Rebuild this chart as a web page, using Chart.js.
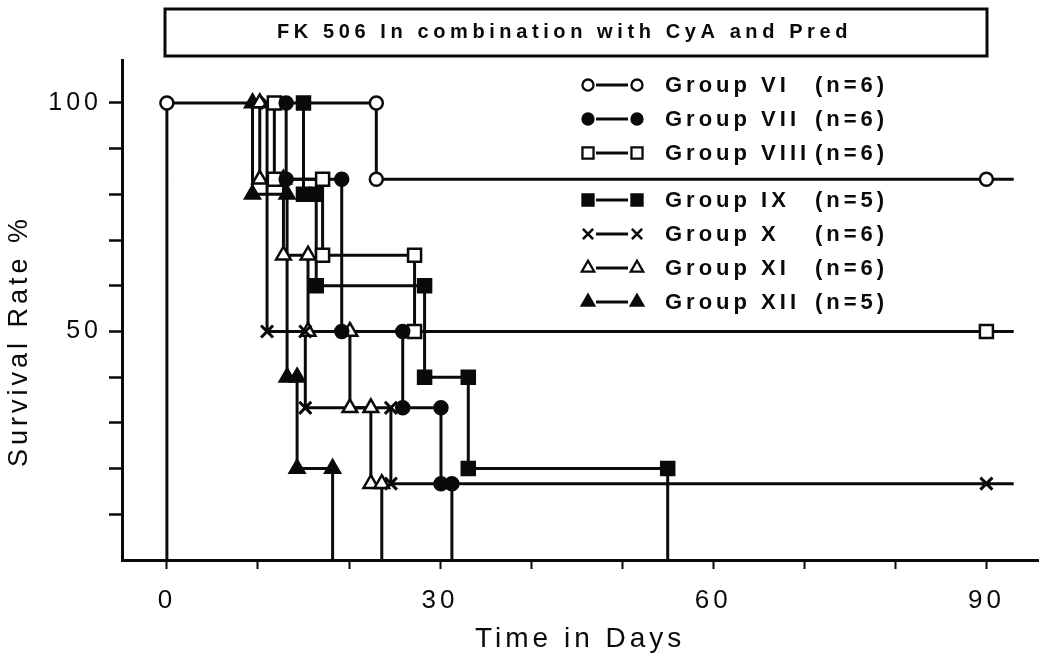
<!DOCTYPE html>
<html>
<head>
<meta charset="utf-8">
<script src="https://cdn.jsdelivr.net/npm/chart.js@4.4.1/dist/chart.umd.min.js"></script>
<style>
  html, body { margin: 0; padding: 0; background: #fff; }
  #wrap { width: 1050px; height: 665px; }
</style>
</head>
<body>
<div id="wrap"><canvas id="c" width="1050" height="665"></canvas></div>
<script>
// ---------------- DATA ----------------
const chartTitle = 'FK 506 In combination with CyA and Pred';
const xAxisTitle = 'Time in Days';
const yAxisTitle = 'Survival Rate %';
const xTickValues = [0, 10, 20, 30, 40, 50, 60, 70, 80, 90];
const xLabelValues = [0, 30, 60, 90];
const yTickValues = [10, 20, 30, 40, 50, 60, 70, 80, 90, 100];
const yLabelValues = [50, 100];

const groupNames = ['Group VI', 'Group VII', 'Group VIII', 'Group IX', 'Group X', 'Group XI', 'Group XII'];
const groupSizes = [6, 6, 6, 5, 6, 6, 5];

// step-curve vertices (day, survival %)
const daysVI   = [0, 0, 23, 23, 90, 93];
const survVI   = [0, 100, 100, 83.3, 83.3, 83.3];

const daysVII  = [13.1, 13.1, 19.2, 19.2, 25.9, 25.9, 30.1, 30.1, 31.3, 31.3];
const survVII  = [100, 83.3, 83.3, 50, 50, 33.3, 33.3, 16.7, 16.7, 0];

const daysVIII = [11.8, 11.8, 17.1, 17.1, 27.2, 27.2, 90, 93];
const survVIII = [100, 83.3, 83.3, 66.7, 66.7, 50, 50, 50];

const daysIX   = [15.0, 15.0, 16.4, 16.4, 28.3, 28.3, 33.1, 33.1, 55.0, 55.0];
const survIX   = [100, 80, 80, 60, 60, 40, 40, 20, 20, 0];

const daysX    = [11.0, 11.0, 15.2, 15.2, 24.6, 24.6, 90, 93];
const survX    = [100, 50, 50, 33.3, 33.3, 16.7, 16.7, 16.7];

const daysXI   = [10.2, 10.2, 12.8, 12.8, 15.5, 15.5, 20.1, 20.1, 22.4, 22.4, 23.6, 23.6];
const survXI   = [100, 83.3, 83.3, 66.7, 66.7, 50, 50, 33.3, 33.3, 16.7, 16.7, 0];

const daysXII  = [9.4, 9.4, 13.2, 13.2, 14.3, 14.3, 18.2, 18.2];
const survXII  = [100, 80, 80, 40, 40, 20, 20, 0];

// ---------------- STYLE TABLE ----------------
const groupDays = [daysVI, daysVII, daysVIII, daysIX, daysX, daysXI, daysXII];
const groupSurv = [survVI, survVII, survVIII, survIX, survX, survXI, survXII];
const markerStyles = [
  { style: 'circle',   filled: false, r: 6.5 },
  { style: 'circle',   filled: true,  r: 6.5 },
  { style: 'rect',     filled: false, r: 9.2 },
  { style: 'rect',     filled: true,  r: 9.2 },
  { style: 'crossRot', filled: false, r: 8.5 },
  { style: 'triangle', filled: false, r: 8.5 },
  { style: 'triangle', filled: true,  r: 8.5 }
];
const INK = '#0a0a0a';
const SANS = '"Liberation Sans", Arial, Helvetica, sans-serif';

const datasets = [];
groupNames.forEach((name, i) => {
  const days = groupDays[i], surv = groupSurv[i];
  const path = days.map((d, k) => ({ x: d, y: surv[k] }));
  const marks = path.filter(p => p.y > 0 && p.x <= 90.5);
  const ms = markerStyles[i];
  datasets.push({
    label: name + ' line',
    data: path,
    showLine: true,
    borderColor: INK,
    borderWidth: 3,
    pointRadius: 0,
    tension: 0,
    fill: false,
    order: 2
  });
  datasets.push({
    label: name,
    data: marks,
    showLine: false,
    pointStyle: ms.style,
    pointRadius: ms.r,
    pointHoverRadius: ms.r,
    pointBackgroundColor: ms.filled ? INK : '#ffffff',
    pointBorderColor: INK,
    pointBorderWidth: ms.style === 'crossRot' ? 3 : 2.5,
    order: 1
  });
});

// ---------------- MARKER DRAWER (legend) ----------------
function drawMarker(ctx, ms, x, y, r) {
  ctx.save();
  ctx.fillStyle = ms.filled ? INK : '#fff';
  ctx.strokeStyle = INK;
  ctx.lineWidth = ms.style === 'crossRot' ? 2.6 : 2.3;
  ctx.beginPath();
  if (ms.style === 'circle') {
    ctx.arc(x, y, r, 0, Math.PI * 2);
    ctx.fill(); ctx.stroke();
  } else if (ms.style === 'rect') {
    const s = r * Math.SQRT1_2;
    ctx.rect(x - s, y - s, 2 * s, 2 * s);
    ctx.fill(); ctx.stroke();
  } else if (ms.style === 'triangle') {
    let a = 0;
    ctx.moveTo(x + Math.sin(a) * r, y - Math.cos(a) * r);
    a += Math.PI * 2 / 3;
    ctx.lineTo(x + Math.sin(a) * r, y - Math.cos(a) * r);
    a += Math.PI * 2 / 3;
    ctx.lineTo(x + Math.sin(a) * r, y - Math.cos(a) * r);
    ctx.closePath();
    ctx.fill(); ctx.stroke();
  } else if (ms.style === 'crossRot') {
    const s = r * Math.SQRT1_2;
    ctx.moveTo(x - s, y - s); ctx.lineTo(x + s, y + s);
    ctx.moveTo(x - s, y + s); ctx.lineTo(x + s, y - s);
    ctx.stroke();
  }
  ctx.restore();
}

const decor = {
  id: 'decor',
  beforeDraw(chart) {
    chart.ctx.letterSpacing = '4px';
  },
  afterDraw(chart) {
    const ctx = chart.ctx;
    ctx.save();
    // title box
    ctx.letterSpacing = '0px';
    ctx.lineWidth = 3;
    ctx.strokeStyle = INK;
    ctx.strokeRect(165, 9, 822, 47);
    ctx.letterSpacing = '4.6px';
    ctx.font = 'bold 20px ' + SANS;
    ctx.fillStyle = INK;
    ctx.textAlign = 'left';
    ctx.textBaseline = 'middle';
    ctx.fillText(chartTitle, 277, 32);

    // y-axis title
    ctx.save();
    ctx.translate(20, 343);
    ctx.rotate(-Math.PI / 2);
    ctx.letterSpacing = '4px';
    ctx.font = '27px ' + SANS;
    ctx.textAlign = 'center';
    ctx.textBaseline = 'middle';
    ctx.fillText(yAxisTitle, 2, 0);
    ctx.restore();

    // legend
    groupNames.forEach((name, i) => {
      const y = 85 + i * 34 + (i >= 3 ? 13 : 0);
      const ms = markerStyles[i];
      ctx.letterSpacing = '0px';
      ctx.lineWidth = 3;
      ctx.strokeStyle = INK;
      ctx.beginPath();
      ctx.moveTo(596, y); ctx.lineTo(628, y);
      ctx.stroke();
      drawMarker(ctx, ms, 588, y, ms.r * 0.85);
      drawMarker(ctx, ms, 637, y, ms.r * 0.85);
      ctx.letterSpacing = '4px';
      ctx.font = 'bold 22px ' + SANS;
      ctx.fillStyle = INK;
      ctx.textAlign = 'left';
      ctx.textBaseline = 'middle';
      ctx.fillText(name, 665, y + 1);
      ctx.fillText('(n=' + groupSizes[i] + ')', 815, y + 1);
    });
    ctx.restore();
    ctx.letterSpacing = '0px';
  }
};

new Chart(document.getElementById('c'), {
  type: 'line',
  data: { datasets },
  plugins: [decor],
  options: {
    responsive: false,
    devicePixelRatio: 1,
    animation: false,
    events: [],
    layout: { padding: { left: 0, right: 10, top: 60, bottom: 0 } },
    plugins: { legend: { display: false }, tooltip: { enabled: false }, title: { display: false } },
    scales: {
      x: {
        type: 'linear',
        min: -4.93,
        max: 95.7,
        afterFit: s => { s.height = 105; },
        afterBuildTicks: s => { s.ticks = xTickValues.map(v => ({ value: v })); },
        border: { display: true, width: 3, color: INK },
        grid: { display: true, drawOnChartArea: false, drawTicks: true, tickLength: 9, tickWidth: 2, tickColor: INK },
        ticks: {
          autoSkip: false, maxRotation: 0, padding: 16, color: INK,
          font: { family: SANS, size: 26 },
          callback: v => xLabelValues.includes(v) ? String(v) : ''
        },
        title: {
          display: true, text: xAxisTitle, color: INK,
          font: { family: SANS, size: 28 },
          padding: { top: 0, bottom: 9 }
        }
      },
      y: {
        type: 'linear',
        min: 0,
        max: 109.4,
        afterFit: s => { s.width = 122; },
        afterBuildTicks: s => { s.ticks = yTickValues.map(v => ({ value: v })); },
        border: { display: true, width: 3, color: INK },
        grid: { display: true, drawOnChartArea: false, drawTicks: true, tickLength: 13, tickWidth: 2.5, tickColor: INK },
        ticks: {
          autoSkip: false, padding: 7, color: INK,
          font: { family: SANS, size: 25 },
          callback: v => yLabelValues.includes(v) ? String(v) : ''
        },
        title: { display: false }
      }
    }
  }
});
</script>
</body>
</html>
